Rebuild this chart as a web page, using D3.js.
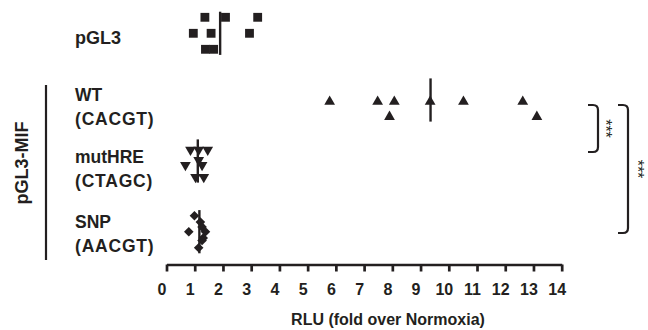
<!DOCTYPE html>
<html>
<head>
<meta charset="utf-8">
<script src="https://cdn.jsdelivr.net/npm/d3@7"></script>
<style>
  body { margin: 0; background: #fff; }
  text { font-family: "Liberation Sans", Arial, sans-serif; fill: #231f20; }
</style>
</head>
<body>
<div id="chart"></div>
<script>
// groups top to bottom
var groups = ['pGL3', 'WT', 'mutHRE', 'SNP'];
var groupLines = [['pGL3'], ['WT', '(CACGT)'], ['mutHRE', '(CTAGC)'], ['SNP', '(AACGT)']];
var groupSymbols = ['square', 'up', 'down', 'diamond'];

// RLU values (fold over normoxia) per replicate
var pgl3Values   = [1.36, 2.09, 3.23, 0.95, 1.58, 2.94, 1.38, 1.67];
var wtValues     = [5.78, 7.48, 8.07, 7.90, 9.34, 10.52, 12.62, 13.12];
var mutHREValues = [0.85, 1.14, 1.46, 0.67, 1.26, 1.14, 1.03, 1.32];
var snpValues    = [0.99, 1.20, 1.26, 1.38, 0.79, 1.30, 1.26, 1.14];

// vertical scatter lane of each replicate (as in the column scatter)
var pgl3Lanes   = [-2, -2, -2, 0, 0, 0, 2, 2];
var wtLanes     = [0.2, 0.2, 0.2, 2.1, 0.2, 0.2, 0.2, 2.1];
var mutHRELanes = [-1.4, -1.4, -1.4, 0.5, 0.5, -0.1, 2, 2];
var snpLanes    = [-2, -1.2, -0.6, 0, 0, 0.8, 1.1, 2];

var xTicks = d3.range(0, 15);
var xTitle = 'RLU (fold over Normoxia)';
var sideTitle = 'pGL3-MIF';

var comparisons = [
  { from: 'WT', to: 'mutHRE', label: '***' },
  { from: 'WT', to: 'SNP', label: '***' }
];

var values = [pgl3Values, wtValues, mutHREValues, snpValues];
var lanes = [pgl3Lanes, wtLanes, mutHRELanes, snpLanes];

var W = 648, H = 330;
var ink = '#231f20';

var svg = d3.select('#chart').append('svg')
    .attr('width', W)
    .attr('height', H);

var x = d3.scaleLinear().domain([0, 14]).range([166.5, 561.7]);
var yRow = d3.scaleOrdinal().domain(groups).range([33.3, 100, 161, 231.7]);
var lane = d3.scaleLinear().domain([-1, 1]).range([-8, 8]);

var points = [];
groups.forEach(function(g, gi) {
  values[gi].forEach(function(v, i) {
    points.push({ group: g, sym: groupSymbols[gi], value: v, lane: lanes[gi][i] });
  });
});

var symbolGen = {
  square: d3.symbol().type(d3.symbolSquare).size(78),
  up: d3.symbol().type(d3.symbolTriangle).size(50),
  down: d3.symbol().type(d3.symbolTriangle).size(50),
  diamond: d3.symbol().type(d3.symbolSquare).size(46)
};
var symbolRot = { square: 0, up: 0, down: 180, diamond: 45 };

svg.append('g').selectAll('path')
  .data(points)
  .enter()
  .append('path')
    .attr('d', function(d) { return symbolGen[d.sym](); })
    .attr('transform', function(d) {
      return 'translate(' + x(d.value) + ',' + (yRow(d.group) + lane(d.lane)) + ') rotate(' + symbolRot[d.sym] + ')';
    })
    .attr('fill', ink);

// mean lines
svg.append('g').selectAll('line')
  .data(groups)
  .enter()
  .append('line')
    .attr('x1', function(d, i) { return x(d3.mean(values[i])); })
    .attr('x2', function(d, i) { return x(d3.mean(values[i])); })
    .attr('y1', function(d) { return yRow(d) + lane(-2.7); })
    .attr('y2', function(d) { return yRow(d) + lane(2.7); })
    .attr('stroke', ink)
    .attr('stroke-width', 2.4);

// x axis
var xAxis = d3.axisBottom(x).tickValues(xTicks).tickSize(7).tickSizeOuter(0).tickFormat(d3.format('d'));
var ax = svg.append('g')
    .attr('transform', 'translate(0,264.5)')
    .call(xAxis);
ax.select('.domain').attr('stroke', ink).attr('stroke-width', 2.7);
ax.selectAll('.tick line').attr('stroke', ink).attr('stroke-width', 2.7);
ax.selectAll('.tick text')
    .attr('y', 30)
    .attr('dy', 0)
    .attr('dx', -5)
    .style('font-size', '16px')
    .style('font-weight', 'bold')
    .attr('fill', ink);

svg.append('text')
    .attr('x', 388)
    .attr('y', 325)
    .attr('text-anchor', 'middle')
    .style('font-size', '16px')
    .style('font-weight', 'bold')
    .text(xTitle);

// row labels
var labelTop = { pGL3: 43.5, WT: 101, mutHRE: 163, SNP: 228 };
groups.forEach(function(g, gi) {
  groupLines[gi].forEach(function(t, li) {
    svg.append('text')
      .attr('x', 75)
      .attr('y', labelTop[g] + li * 23.5)
      .style('font-size', g === 'pGL3' ? '18px' : '17.5px')
      .style('font-weight', 'bold')
      .style('letter-spacing', li ? '0.8px' : '0px')
      .text(t);
  });
});

// side group bar + title
svg.append('line')
    .attr('x1', 46).attr('x2', 46)
    .attr('y1', 85).attr('y2', 260)
    .attr('stroke', ink)
    .attr('stroke-width', 2.2);

svg.append('text')
    .attr('transform', 'translate(28,163) rotate(-90)')
    .attr('text-anchor', 'middle')
    .style('font-size', '18px')
    .style('font-weight', 'bold')
    .text(sideTitle);

// significance brackets
var bracketLayout = [
  { x0: 588, x1: 598, top: 5, bottom: -9, starX: 609 },
  { x0: 618, x1: 628, top: 5, bottom: 1.3, starX: 641.5 }
];
comparisons.forEach(function(c, i) {
  var b = bracketLayout[i];
  var y0 = yRow(c.from) + b.top, y1 = yRow(c.to) + b.bottom, r = 5;
  var p = d3.path();
  p.moveTo(b.x0, y0);
  p.lineTo(b.x1 - r, y0);
  p.quadraticCurveTo(b.x1, y0, b.x1, y0 + r);
  p.lineTo(b.x1, y1 - r);
  p.quadraticCurveTo(b.x1, y1, b.x1 - r, y1);
  p.lineTo(b.x0, y1);
  svg.append('path')
    .attr('d', p.toString())
    .attr('fill', 'none')
    .attr('stroke', ink)
    .attr('stroke-width', 2.2);
  svg.append('text')
    .attr('transform', 'translate(' + b.starX + ',' + ((y0 + y1) / 2) + ') rotate(90)')
    .attr('text-anchor', 'middle')
    .attr('dy', '0.58em')
    .style('font-size', '16px')
    .text(c.label);
});
</script>
</body>
</html>
